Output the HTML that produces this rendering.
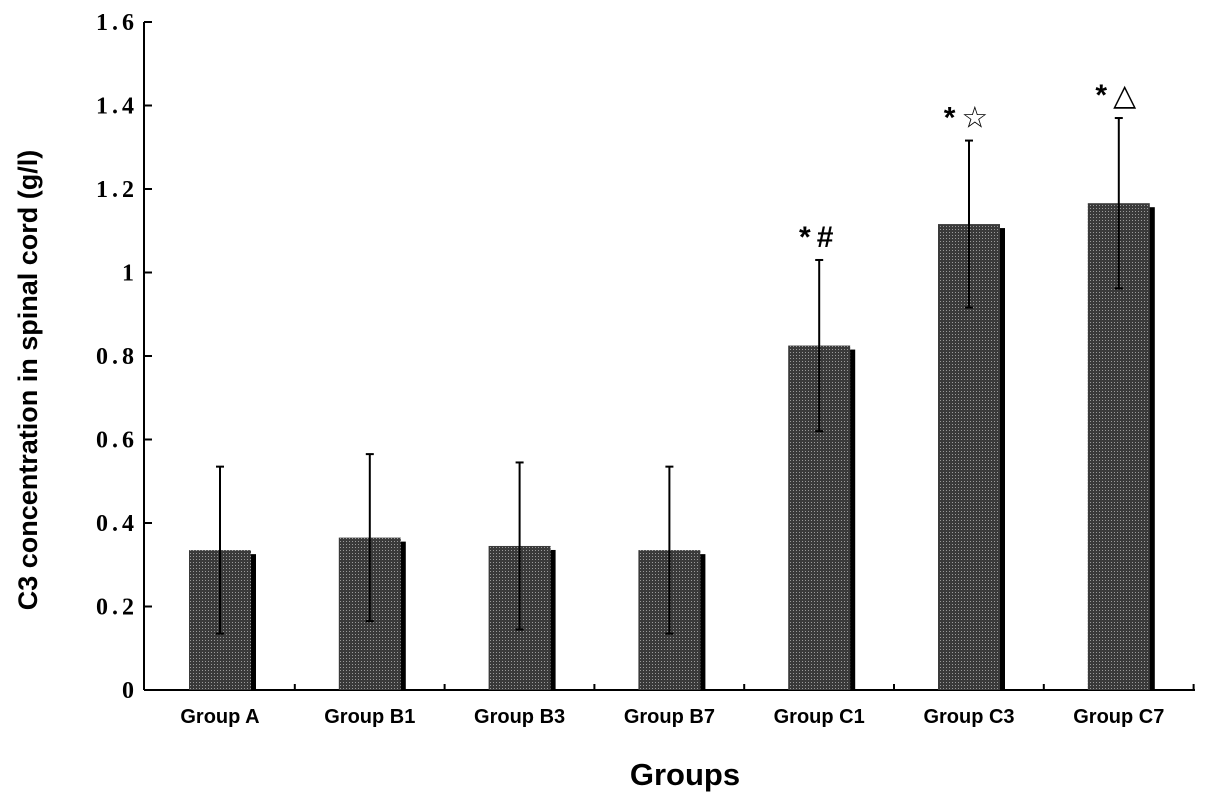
<!DOCTYPE html>
<html><head><meta charset="utf-8"><style>
html,body{margin:0;padding:0;background:#fff;}
svg{display:block;}
</style></head><body>
<svg id="chart" width="1205" height="804" viewBox="0 0 1205 804">
<defs>
<pattern id="dots" width="3" height="3" patternUnits="userSpaceOnUse">
<rect width="3" height="3" fill="#3a3a3a"/>
<rect x="1" y="1" width="1" height="1" fill="#9a9a9a"/>
</pattern>
</defs>
<g id="plot"></g>
</svg>
<script>
const categories = ["Group A","Group B1","Group B3","Group B7","Group C1","Group C3","Group C7"];
const means = [0.335,0.365,0.345,0.335,0.825,1.116,1.166];
const errors = [0.2,0.2,0.2,0.2,0.205,0.2,0.204];
const marks = ["","","","","*#","*☆","*△"];
const yTicks = [0,0.2,0.4,0.6,0.8,1,1.2,1.4,1.6];
const yTickLabels = ["0","0.2","0.4","0.6","0.8","1","1.2","1.4","1.6"];

const NS="http://www.w3.org/2000/svg";
const g=document.getElementById('plot');
const x0=144,y0=690,yTop=22;
function yS(v){return y0-(y0-yTop)*v/1.6;}
function xC(i){return 220+i*149.8;}
function mk(tag,attrs){const e=document.createElementNS(NS,tag);for(const k in attrs)e.setAttribute(k,attrs[k]);g.appendChild(e);return e;}

let ax=mk('line',{x1:x0,y1:y0,x2:x0,y2:yTop,stroke:'#000','stroke-width':2});


let bx=mk('line',{x1:x0,y1:y0,x2:1195,y2:y0,stroke:'#000','stroke-width':2});



yTicks.forEach((v,i)=>{
  const y=yS(v);
  let t=mk('line',{x1:x0,y1:y,x2:x0+8,y2:y,stroke:'#000','stroke-width':2});
  
  
  let l=mk('text',{x:x0-6,y:y+8,'text-anchor':'end','font-family':'Liberation Serif, serif','font-size':24,'font-weight':'bold','letter-spacing':'4'});
  l.textContent=yTickLabels[i];
  
  
});
for(let i=1;i<=categories.length;i++){
  const x=xC(i)-75;
  let t=mk('line',{x1:x,y1:y0,x2:x,y2:y0-6,stroke:'#000','stroke-width':2});
  
  
}

categories.forEach((c,i)=>{
  const cx=xC(i),top=yS(means[i]),w=62;
  let s=mk('rect',{x:cx-31+5,y:top+4,width:w,height:y0-top-4,fill:'#000'});
  
  
  let b=mk('rect',{x:cx-31,y:top,width:w,height:y0-top,fill:'url(#dots)'});
  
  
  const eT=yS(means[i]+errors[i]),eB=yS(means[i]-errors[i]);
  let e=mk('line',{x1:cx,y1:eT,x2:cx,y2:eB,stroke:'#000','stroke-width':2});
  
  
  let c1=mk('line',{x1:cx-4,y1:eT,x2:cx+4,y2:eT,stroke:'#000','stroke-width':2});
  
  
  let c2=mk('line',{x1:cx-4,y1:eB,x2:cx+4,y2:eB,stroke:'#000','stroke-width':2});
  
  
  let l=mk('text',{x:cx,y:723,'text-anchor':'middle','font-family':'Liberation Sans, sans-serif','font-size':20,'font-weight':'bold'});
  l.textContent=c;
  
  
  if(marks[i]){
    let m=mk('text',{x:cx,y:eT-13,'text-anchor':'middle','font-family':'Liberation Sans, DejaVu Sans, sans-serif','font-size':30,'font-weight':'bold','letter-spacing':'6'});
    m.textContent=marks[i];
    
    
  }
});

let xt=mk('text',{x:685,y:785,'text-anchor':'middle','font-family':'Liberation Sans, sans-serif','font-size':31,'font-weight':'bold'});
xt.textContent='Groups';


let yt=mk('text',{x:0,y:0,'text-anchor':'middle','font-family':'Liberation Sans, sans-serif','font-size':27,'font-weight':'bold',transform:'translate(37,380) rotate(-90)'});
yt.textContent='C3 concentration in spinal cord (g/l)';


</script>
</body></html>
